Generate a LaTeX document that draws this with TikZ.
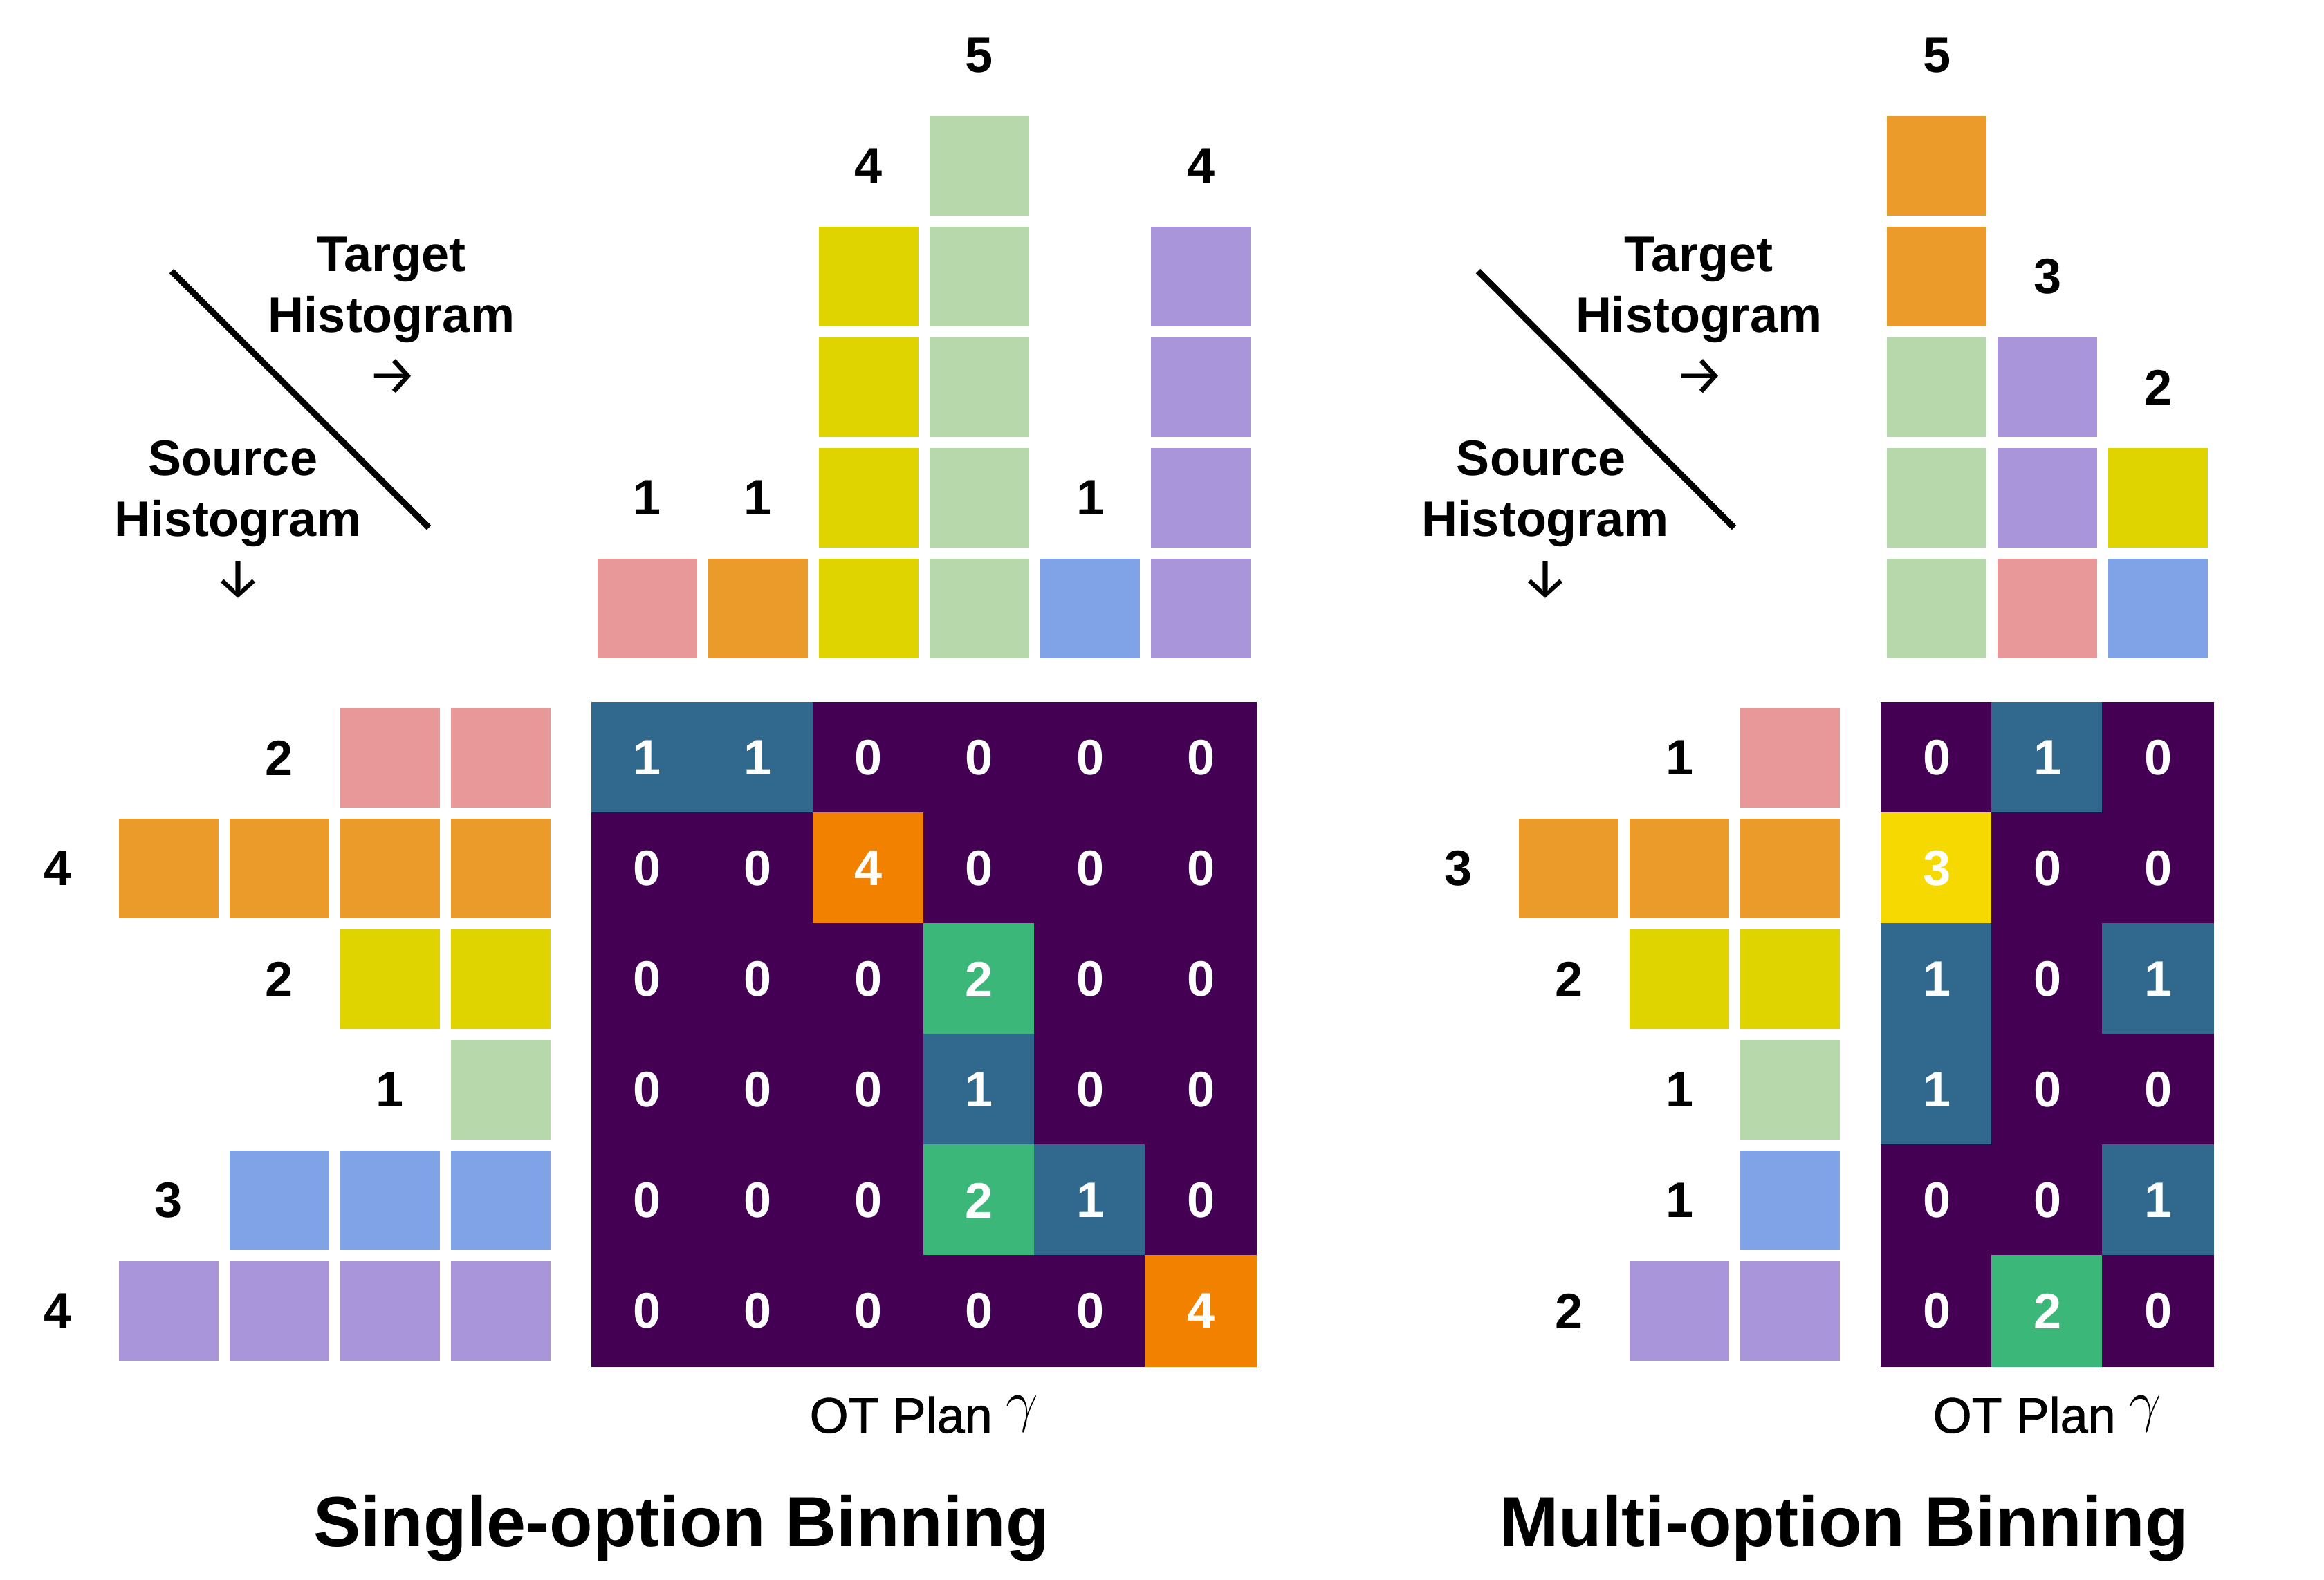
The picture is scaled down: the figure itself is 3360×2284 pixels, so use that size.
\documentclass[tikz,border=0pt]{standalone}
\usepackage{fontspec}
\setmainfont{Liberation Sans}
\newfontfamily\arrowfont{Fira Sans}
\newfontfamily\medfont[FakeBold=1.2]{Liberation Sans}
\definecolor{hpink}{HTML}{E9989A}
\definecolor{horange}{HTML}{EB9B2A}
\definecolor{hyellow}{HTML}{E0D400}
\definecolor{hgreen}{HTML}{B7D8AB}
\definecolor{hblue}{HTML}{7FA3E6}
\definecolor{hpurple}{HTML}{A995DA}
\definecolor{m0}{HTML}{440154}
\definecolor{m1}{HTML}{31688E}
\definecolor{m2}{HTML}{3BB77A}
\definecolor{m3}{HTML}{F5D900}
\definecolor{m4}{HTML}{F28100}
\begin{document}
\begin{tikzpicture}[x=0.25pt,y=-0.25pt,
  hcell/.style={minimum size=36pt, inner sep=0pt, outer sep=0pt},
  mcell/.style={minimum size=40pt, inner sep=0pt, outer sep=0pt, line width=0.4pt, text=white, font=\fontsize{18}{22}\selectfont\bfseries},
  num/.style={font=\fontsize{18}{22}\selectfont\bfseries, inner sep=0pt},
  lab/.style={font=\fontsize{18}{22}\selectfont\bfseries, inner sep=0pt, anchor=base},
  arr/.style={font=\fontsize{20}{22}\selectfont\arrowfont, inner sep=0pt},
  plan/.style={font=\fontsize{18}{22}\selectfont\medfont, inner sep=0pt, anchor=base},
  title/.style={font=\fontsize{25.6}{30}\selectfont\bfseries, inner sep=0pt, anchor=base},
  diag/.style={line width=2.25pt}
]
\useasboundingbox (0,0) rectangle (3360,2284);

% ---------------- Left panel: Single-option Binning ----------------
% target histogram
\foreach \j/\n/\c in {0/1/hpink,1/1/horange,2/4/hyellow,3/5/hgreen,4/1/hblue,5/4/hpurple}{
  \foreach \r in {1,...,\n}{
    \node[hcell, fill=\c] (Lt-\j-\r) at ({936+160*\j},{880-160*(\r-1)}) {};
  }
  \node[num] (Ltl-\j) at ({936+160*\j},{880-160*\n}) {\n};
}
% source histogram
\foreach \i/\n/\c in {0/2/hpink,1/4/horange,2/2/hyellow,3/1/hgreen,4/3/hblue,5/4/hpurple}{
  \foreach \k in {1,...,\n}{
    \node[hcell, fill=\c] (Ls-\i-\k) at ({724-160*(\k-1)},{1096+160*\i}) {};
  }
  \node[num] (Lsl-\i) at ({724-160*\n},{1096+160*\i}) {\n};
}
% OT plan
\foreach \row [count=\i from 0] in {{1,1,0,0,0,0},{0,0,4,0,0,0},{0,0,0,2,0,0},{0,0,0,1,0,0},{0,0,0,2,1,0},{0,0,0,0,0,4}}{
  \foreach \v [count=\j from 0] in \row {
    \node[mcell, fill=m\v, draw=m\v] (Lm-\i-\j) at ({936+160*\j},{1096+160*\i}) {\v};
  }
}
% labels
\coordinate (Ld1) at (248,392);
\coordinate (Ld2) at (620,763);
\draw[diag] (Ld1) -- (Ld2);
\node[lab] (Ltg1) at (566,392) {Target};
\node[lab] (Ltg2) at (566,480) {Histogram};
\node[arr] (Ltga) at (567,545) {→};
\node[lab] (Lsr1) at (337,687) {Source};
\node[lab] (Lsr2) at (344,775) {Histogram};
\node[arr] (Lsra) at (344,838) {↓};
\node[plan] (Lplan) at (1336,2072) {OT Plan \raisebox{0.25em}{\fontsize{20}{20}\selectfont$\gamma$}};
\node[title] (Ltitle) at (985,2236) {Single-option Binning};

% ---------------- Right panel: Multi-option Binning ----------------
\foreach \j/\r/\c in {0/1/hgreen,0/2/hgreen,0/3/hgreen,0/4/horange,0/5/horange,1/1/hpink,1/2/hpurple,1/3/hpurple,2/1/hblue,2/2/hyellow}{
  \node[hcell, fill=\c] (Rt-\j-\r) at ({2800+160*\j},{880-160*(\r-1)}) {};
}
\foreach \j/\n in {0/5,1/3,2/2}{
  \node[num] (Rtl-\j) at ({2800+160*\j},{880-160*\n}) {\n};
}
\foreach \i/\n/\c in {0/1/hpink,1/3/horange,2/2/hyellow,3/1/hgreen,4/1/hblue,5/2/hpurple}{
  \foreach \k in {1,...,\n}{
    \node[hcell, fill=\c] (Rs-\i-\k) at ({2588-160*(\k-1)},{1096+160*\i}) {};
  }
  \node[num] (Rsl-\i) at ({2588-160*\n},{1096+160*\i}) {\n};
}
\foreach \row [count=\i from 0] in {{0,1,0},{3,0,0},{1,0,1},{1,0,0},{0,0,1},{0,2,0}}{
  \foreach \v [count=\j from 0] in \row {
    \node[mcell, fill=m\v, draw=m\v] (Rm-\i-\j) at ({2800+160*\j},{1096+160*\i}) {\v};
  }
}
\coordinate (Rd1) at (2137,392);
\coordinate (Rd2) at (2507,763);
\draw[diag] (Rd1) -- (Rd2);
\node[lab] (Rtg1) at (2456,392) {Target};
\node[lab] (Rtg2) at (2456,480) {Histogram};
\node[arr] (Rtga) at (2457,545) {→};
\node[lab] (Rsr1) at (2228,687) {Source};
\node[lab] (Rsr2) at (2234,775) {Histogram};
\node[arr] (Rsra) at (2234,838) {↓};
\node[plan] (Rplan) at (2960,2072) {OT Plan \raisebox{0.25em}{\fontsize{20}{20}\selectfont$\gamma$}};
\node[title] (Rtitle) at (2666,2236) {Multi-option Binning};
\end{tikzpicture}
\end{document}
